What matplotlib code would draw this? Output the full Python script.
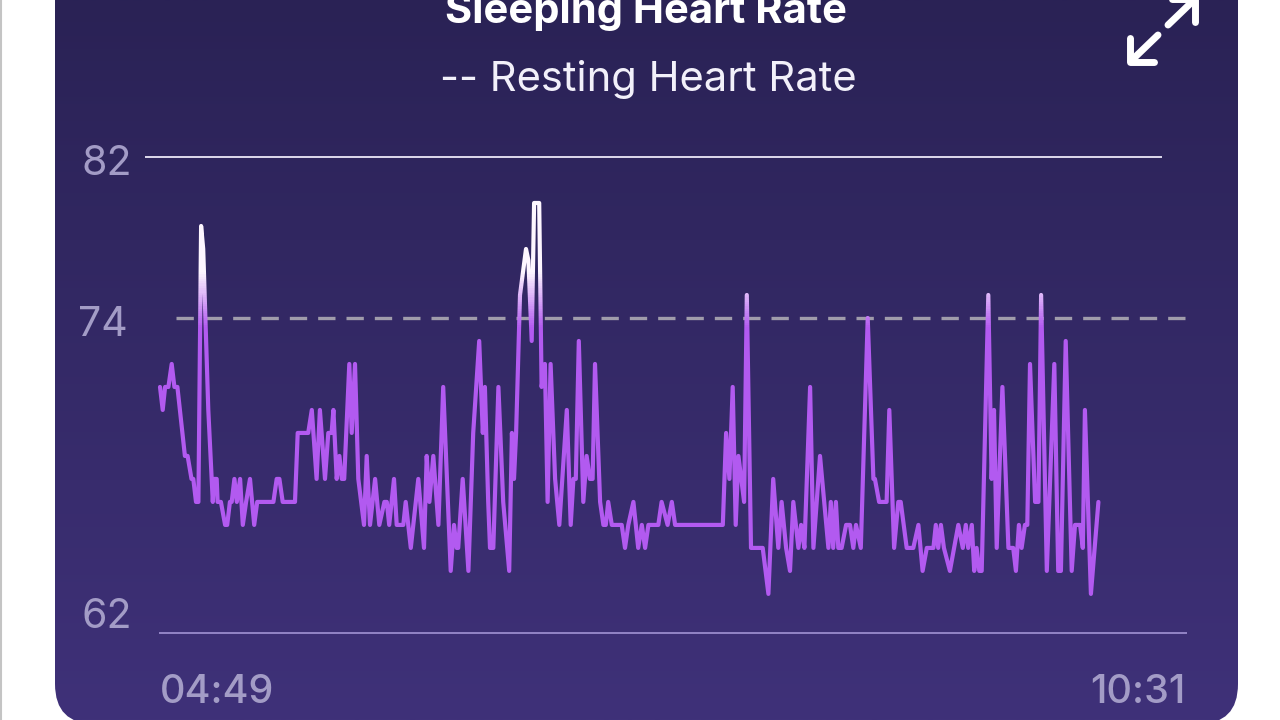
import numpy as np
import matplotlib

matplotlib.use("Agg")
import matplotlib.pyplot as plt
from matplotlib.colors import LinearSegmentedColormap, to_rgb
from matplotlib.patches import FancyBboxPatch, Rectangle

plt.rcParams["font.family"] = ["Inter", "DejaVu Sans"]

title = "Sleeping Heart Rate"
subtitle = "-- Resting Heart Rate"
y_labels = ["82", "74", "62"]
x_labels = ["04:49", "10:31"]
resting_rate = 74

# minutes after 04:49
minutes = [
    0, 0.9, 1.7, 2.8, 3.9, 4.8, 5.8, 8.3, 9.2, 10.5, 11.1, 12, 12.8, 13.7, 14.4, 16.1, 17.6, 18,
    18.9, 19.2, 20.3, 21.7, 22.4, 23.3, 23.9, 24.8, 25.6, 26.7, 27.6, 28.7, 30, 31.4, 32.4, 37.8,
    38.9, 39.8, 40.9, 45, 45.9, 49.4, 50.6, 52.2, 53.3, 55, 56.1, 57.2, 57.8, 58.9, 59.8, 60.6,
    61.4, 63.1, 63.9, 65, 66.1, 68, 68.9, 70, 71.7, 73.1, 74.8, 75.6, 76.4, 78, 78.9, 81.1, 81.9,
    83.6, 86.1, 88, 88.9, 89.8, 91.1, 92.8,
    94.4, 96.9, 98, 98.9, 99.4, 100.9, 102.8, 104.4, 106.4, 107.6, 108.3, 109.4, 110, 111.1,
    112.8, 114.4, 116.4, 117.3, 118, 118.7, 120, 122, 122.8, 123.9, 124.7, 126.4, 127.2, 128.3,
    129.2, 130.2, 131.7, 133.1, 135.6, 136.9, 137.8, 138.6, 139.6, 141.1, 142.2, 143.3, 144.2,
    145, 146.7, 147.8, 148.6, 149.4, 150.6, 153.9, 155, 156.1, 157.8, 159.4, 160.6, 161.7, 162.8,
    166.1, 167.2, 169.2, 170.6, 171.7, 187.6, 188.7, 189.8, 190.9, 191.9, 192.8, 194.7, 195.6,
    197, 200.9, 202.8,
    204.4, 206.1, 207.2, 208.7, 210, 211.1, 212.8, 213.7, 214.8, 216.7, 217.8, 220, 222.8, 223.6,
    224.4, 225.3, 226.1, 227.2, 228.7, 230, 231.1, 232, 233.6, 235.9, 237.8, 238.3, 239.7, 242.2,
    243.1, 244.7, 246.1, 246.9, 248.9, 251.1, 252.8, 254.2, 255.6, 257.8, 258.6, 259.4, 260.3,
    261.3, 263.3, 264.7, 266.1, 267.6, 268.6, 269.4, 270.6, 271.4, 272.2, 273.1, 273.9, 276.1,
    277.2, 278, 278.9, 280.8, 282.8, 284.4, 285.3, 286.3, 287.2, 288.3, 289.1, 290, 291.7, 292.8,
    293.7, 295.6, 298.1, 299.4, 300.3, 301.9, 303.9, 305, 306.7, 307.6, 308.3, 310.3, 312.8,
]
heart_rate = [
    71, 70, 71, 71, 72, 71, 71, 68, 68, 67, 67, 66, 66, 78, 77, 70, 66, 67,
    67, 66, 66, 65, 65, 66, 66, 67, 66, 67, 65, 66, 67, 65, 66, 66,
    67, 67, 66, 66, 69, 69, 70, 67, 70, 67, 69, 69, 70, 67, 68, 67,
    67, 72, 69, 72, 67, 65, 68, 65, 67, 65, 66, 66, 65, 67, 65, 65, 66,
    64, 67, 64, 68, 66, 68, 65,
    71, 63, 65, 64, 64, 67, 63, 69, 73, 69, 71, 66, 64, 64,
    71, 66, 63, 69, 67, 69, 75, 77, 76.5, 73, 79, 79, 71, 72,
    66, 72, 67, 65, 70, 65, 67, 67, 73, 66, 68, 67, 67,
    72, 66, 65, 65, 66, 65, 65, 64, 65, 66, 64, 65, 64, 65,
    65, 66, 65, 66, 65, 65, 69, 67, 71, 65, 68, 66, 75,
    64, 64, 62,
    67, 64, 66, 64, 63, 66, 64, 65, 64, 71, 64, 68, 64, 66,
    64, 66, 64, 64, 65, 65, 64, 65, 64, 74, 67, 67, 66, 66,
    70, 64, 66, 66, 64, 64, 65, 63, 64, 64, 65, 64, 65,
    64, 63, 64, 65, 64, 65, 64, 65, 63, 64, 63, 63, 75,
    67, 70, 64, 71, 64, 64, 63, 65, 64, 65, 65, 72, 66, 66,
    75, 63, 72, 63, 63, 73, 63, 65, 65, 64, 70, 62, 66,
]

line_color = "#b25af0"
label_color = "#a39cc6"


def px_axes(fig, left, top, right, bottom):
    # axes position given in image pixels
    w, h = fig.canvas.get_width_height()
    return fig.add_axes([left / w, 1 - bottom / h, (right - left) / w, (bottom - top) / h])


fig = plt.figure(figsize=(12.8, 7.2), dpi=100, facecolor="white")

# background layer in image pixels: card, icon and texts
bg = fig.add_axes([0, 0, 1, 1])
bg.set_xlim(0, 1280)
bg.set_ylim(720, 0)
bg.axis("off")

bg.plot([0.5, 0.5], [0, 720], color="#c4c4c4", lw=1.5)

card_cmap = LinearSegmentedColormap.from_list("card", ["#2a2255", "#3f3179"])
gradient = np.linspace(0, 1, 256).reshape(-1, 1)
card = bg.imshow(gradient, cmap=card_cmap, extent=[55, 1238, 720, 0], aspect="auto", zorder=1)
card_shape = FancyBboxPatch(
    (55 + 40, -100), 1183 - 80, 824 - 40,
    boxstyle="round,pad=40,rounding_size=40",
    transform=bg.transData, facecolor="none", edgecolor="none",
)
bg.add_patch(card_shape)
card.set_clip_path(card_shape)
bg.set_xlim(0, 1280)
bg.set_ylim(720, 0)

bg.text(646, 23, title, color="white", fontsize=30, fontweight="bold", ha="center",
        va="baseline", zorder=3)
bg.text(648, 91, subtitle, color="#f2f0fa", fontsize=30, ha="center", va="baseline", zorder=3)

bg.text(132, 175, y_labels[0], color=label_color, fontsize=29.5, ha="right", va="baseline", zorder=3)
bg.text(128, 336, y_labels[1], color=label_color, fontsize=29.5, ha="right", va="baseline", zorder=3)
bg.text(132, 628, y_labels[2], color=label_color, fontsize=29.5, ha="right", va="baseline", zorder=3)
bg.text(160, 703, x_labels[0], color=label_color, fontsize=28.5, fontweight="medium", ha="left",
        va="baseline", zorder=3)
bg.text(1186, 703, x_labels[1], color=label_color, fontsize=28.5, fontweight="medium", ha="right",
        va="baseline", zorder=3)

# expand icon
for xs, ys in [
    ([1168, 1194], [25, 0]),
    ([1172, 1195, 1195], [-1, -1, 22]),
    ([1158, 1131], [35, 61]),
    ([1130, 1130, 1154], [38, 62, 62]),
]:
    bg.plot(xs, ys, color="white", lw=5, solid_capstyle="round", solid_joinstyle="round", zorder=3)

# chart layer: 3 px per minute, 23 px per bpm
ax = px_axes(fig, 145, 157, 1187, 633)
ax.patch.set_alpha(0)
ax.set_xlim(-5, 342.33)
ax.set_ylim(60.3, 81)
ax.axis("off")

ax.hlines(81, -5, 334, color="#ece8f8", lw=1.3, clip_on=False)
ax.hlines(60.3, -0.3, 342.33, color="#9a8ccc", lw=1.3, clip_on=False)
ax.hlines(resting_rate, 5.3, 342.33, color="#a09cab", lw=2.4, linestyles=(0, (5.2, 3.3)), zorder=2)

# the line fades to white above the resting rate
purple = np.array(to_rgb(line_color))
white = np.array(to_rgb("#fdf6ff"))
band_edges = np.linspace(73.6, 76, 25)
line_style = dict(lw=3, solid_joinstyle="round", solid_capstyle="round", clip_on=True, zorder=3)

low, = ax.plot(minutes, heart_rate, color=line_color, **line_style)
low.set_clip_path(Rectangle((-5, 60), 350, band_edges[0] - 60, transform=ax.transData))
for i in range(len(band_edges) - 1):
    mix = (i + 0.5) / (len(band_edges) - 1)
    band, = ax.plot(minutes, heart_rate, color=purple * (1 - mix) + white * mix, **line_style)
    band.set_clip_path(Rectangle((-5, band_edges[i]), 350, band_edges[i + 1] - band_edges[i],
                                 transform=ax.transData))
high, = ax.plot(minutes, heart_rate, color=white, **line_style)
high.set_clip_path(Rectangle((-5, band_edges[-1]), 350, 82 - band_edges[-1], transform=ax.transData))

fig.savefig("out.png", dpi=100)
